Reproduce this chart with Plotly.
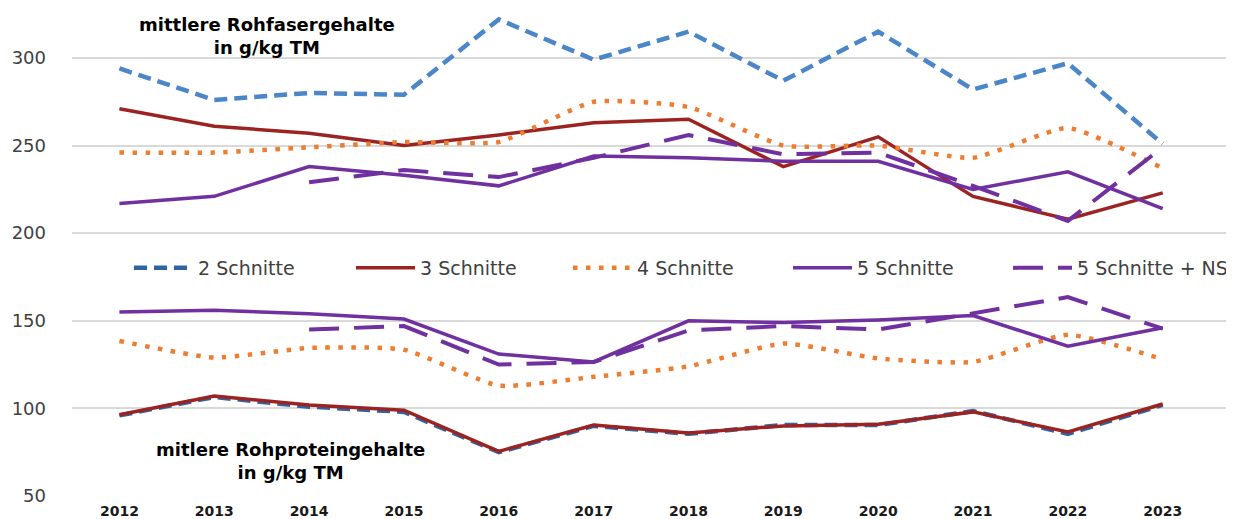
import plotly.graph_objects as go

years = [2012, 2013, 2014, 2015, 2016, 2017, 2018, 2019, 2020, 2021, 2022, 2023]

# mittlere Rohfasergehalte (g/kg TM)
faser_2S = [294, 276, 280, 279, 322, 299, 315, 287, 315, 282, 297, 251]
faser_3S = [271, 261, 257, 250, 256, 263, 265, 238, 255, 221, 208, 223]
faser_4S = [246, 246, 249, 252, 252, 275, 272, 250, 250, 243, 260, 237]
faser_5S = [217, 221, 238, 233, 227, 244, 243, 241, 241, 225, 235, 214]
faser_5SNS = [None, None, 229, 236, 232, 243, 256, 245, 246, 227, 207, 249]

# mittlere Rohproteingehalte (g/kg TM)
protein_2S = [96, 106.5, 101, 98, 75, 90, 85.5, 90.5, 90.5, 98.5, 85.5, 102]
protein_3S = [96.4, 107, 102, 99, 75.5, 90.5, 86, 90, 91, 98, 86.5, 102.5]
protein_4S = [138.5, 129, 134.5, 133.5, 113, 118, 124, 137, 128.5, 126.5, 142, 128]
protein_5S = [155, 156, 154, 151, 131, 126.5, 150, 149, 150.5, 153, 135.5, 146]
protein_5SNS = [None, None, 145, 147, 125, 126.5, 144.5, 147, 145, 154, 163.5, 145.5]

series_names = ["2 Schnitte", "3 Schnitte", "4 Schnitte", "5 Schnitte", "5 Schnitte + NS"]
y_ticks = [50, 100, 150, 200, 250, 300]

FONT = "DejaVu Sans"
BLUE_UP = "#4a86c8"
BLUE_LOW = "#2f64a3"
RED = "#9b2423"
ORANGE = "#ed7d31"
PURPLE = "#7030a0"

# the page body has an 8px margin, so the figure is sized to fit the window
OFF = 8
W, H = 1234 - OFF, 519 - OFF
ML, MR, MT, MB = 72 - OFF, 3, 0, 23
PW = W - ML - MR
PH = H - MT - MB

fig = go.Figure()

def add_pair(up, low, name, color, width, dash, legend, legend_on_low, shape="linear", up_color=None):
    up_color = up_color or color
    fig.add_trace(go.Scatter(x=years, y=low, mode="lines", name=name, legend=legend,
                             showlegend=legend_on_low,
                             line=dict(color=color, width=width, dash=dash, shape=shape, smoothing=0.5)))
    fig.add_trace(go.Scatter(x=years, y=up, mode="lines", name=name, legend=legend,
                             showlegend=not legend_on_low,
                             line=dict(color=up_color, width=width, dash=dash, shape=shape, smoothing=0.5)))

add_pair(faser_2S, protein_2S, series_names[0], BLUE_LOW, 4.5, "13px,7px", "legend", True, up_color=BLUE_UP)
add_pair(faser_3S, protein_3S, series_names[1], RED, 3.5, "solid", "legend2", False)
add_pair(faser_4S, protein_4S, series_names[2], ORANGE, 4.5, "4.5px,8.5px", "legend3", False, shape="spline")
add_pair(faser_5S, protein_5S, series_names[3], PURPLE, 3.5, "solid", "legend4", False)
add_pair(faser_5SNS, protein_5SNS, series_names[4], PURPLE, 4, "30px,15px", "legend5", False)

fig.add_annotation(x=2013.56, y=312.6, xref="x", yref="y",
                   text="mittlere Rohfasergehalte<br>in g/kg TM", showarrow=False,
                   font=dict(family=FONT, size=18, color="#000000", weight="bold"), align="center")
fig.add_annotation(x=2013.8, y=70.0, xref="x", yref="y",
                   text="mitlere Rohproteingehalte<br>in g/kg TM", showarrow=False,
                   font=dict(family=FONT, size=18, color="#000000", weight="bold"), align="center")

legend_starts = [129, 351, 568, 788, 1008]  # window pixels
legend_y = 1 - (268 - OFF - MT) / PH
leg_common = dict(orientation="h", xanchor="left", y=legend_y, yanchor="middle",
                  font=dict(family=FONT, size=19, color="#404040"),
                  itemwidth=59, bgcolor="rgba(255,255,255,0)", itemclick=False, itemdoubleclick=False)
legend_layout = {}
for i, px in enumerate(legend_starts):
    key = "legend" if i == 0 else f"legend{i+1}"
    legend_layout[key] = dict(leg_common, x=(px - OFF - ML) / PW)

fig.update_layout(
    width=W, height=H,
    margin=dict(l=ML, r=MR, t=MT, b=MB, autoexpand=False),
    paper_bgcolor="white", plot_bgcolor="white",
    font=dict(family=FONT, color="#404040"),
    showlegend=True,
    **legend_layout,
    xaxis=dict(range=[2011.5, 2023.72], tickmode="array", tickvals=years,
               ticktext=[str(y) for y in years], showgrid=False, zeroline=False,
               showline=False, ticks="outside", ticklen=2, tickcolor="rgba(0,0,0,0)",
               automargin=False,
               tickfont=dict(family=FONT, size=14, color="#1a1a1a", weight="bold")),
    yaxis=dict(range=[50, 328.5], tickmode="array", tickvals=y_ticks,
               showgrid=True, gridcolor="#d9d9d9", gridwidth=1.5, zeroline=False,
               showline=False, ticklabelstandoff=25, automargin=False,
               tickfont=dict(family=FONT, size=18, color="#404040")),
)

fig.write_html("out.html")
